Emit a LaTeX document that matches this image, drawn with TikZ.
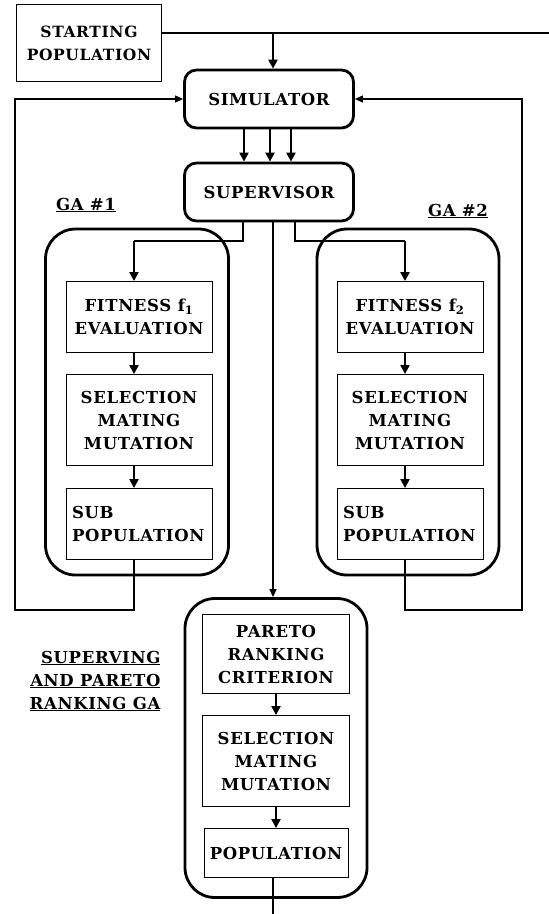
\documentclass[tikz,border=0pt]{standalone}
\usepackage{fontspec}
\setmainfont[LetterSpace=4]{DejaVu Serif}
\usetikzlibrary{arrows.meta}
\tikzset{
  txt/.style={font=\fontsize{16.5}{23}\selectfont\bfseries, align=center},
  box/.style={txt, draw, line width=0.9pt, inner sep=0pt},
  rbox/.style={txt, draw, line width=2.8pt, rounded corners=12pt, inner sep=0pt},
  gabox/.style={draw, line width=2.8pt, rounded corners=30pt, inner sep=0pt},
  arr/.style={line width=2.2pt, -{Triangle[length=9pt,width=9pt]}},
  fb/.style={line width=1.1pt},
  fbarr/.style={fb, -{Triangle[length=8pt,width=7pt]}},
}
\begin{document}
\begin{tikzpicture}[x=1pt, y=-1pt, line join=miter]
  \useasboundingbox (0,0) rectangle (549,914);
  % top part
  \node[box, minimum width=145pt, minimum height=77pt, font=\fontsize{15.5}{23}\selectfont\bfseries] (start) at (89,43) {STARTING\\POPULATION};
  \node[rbox, minimum width=169pt, minimum height=58pt] (sim) at (269,99) {SIMULATOR};
  \node[rbox, minimum width=169pt, minimum height=58pt] (sup) at (269,192) {SUPERVISOR};
  \coordinate (tap) at (273,33);
  \coordinate (topend) at (549,33);
  \draw[fb] (start.east |- tap) -- (topend);
  \draw[arr] (tap) -- (tap |- sim.north);
  \foreach \dx in {-25,1,22} \draw[arr] ([xshift=\dx pt]sim.south) -- ([xshift=\dx pt]sup.north);
  % GA #1 and GA #2
  \node[txt, anchor=base] (lab1) at (86,210) {\underline{GA \#1}};
  \node[txt, anchor=base] (lab2) at (458,216) {\underline{GA \#2}};
  \node[gabox, minimum width=183pt, minimum height=346pt] (ga1) at (137,402) {};
  \node[gabox, minimum width=182pt, minimum height=346pt] (ga2) at (408,402) {};
  \node[box, minimum width=146pt, minimum height=71pt] (fit1) at (139,317) {FITNESS f\textsubscript{1}\\EVALUATION};
  \node[box, minimum width=146pt, minimum height=91pt] (sel1) at (139,420) {SELECTION\\MATING\\MUTATION};
  \node[box, minimum width=146pt, minimum height=71pt, text width=134pt, align=left] (sub1) at (139,524) {SUB\\POPULATION};
  \node[box, minimum width=146pt, minimum height=71pt] (fit2) at (410,317) {FITNESS f\textsubscript{2}\\EVALUATION};
  \node[box, minimum width=146pt, minimum height=91pt] (sel2) at (410,420) {SELECTION\\MATING\\MUTATION};
  \node[box, minimum width=146pt, minimum height=71pt, text width=134pt, align=left] (sub2) at (410,524) {SUB\\POPULATION};
  \coordinate (j1) at (134,241);
  \coordinate (j2) at (405,241);
  \draw[fb] ([xshift=-26pt]sup.south) |- (j1);
  \draw[fb] ([xshift=26pt]sup.south) |- (j2);
  \draw[arr] (j1) -- (j1 |- fit1.north);
  \draw[arr] (j2) -- (j2 |- fit2.north);
  \draw[arr] ([xshift=-5pt]fit1.south) -- ([xshift=-5pt]sel1.north);
  \draw[arr] ([xshift=-5pt]sel1.south) -- ([xshift=-5pt]sub1.north);
  \draw[arr] ([xshift=-5pt]fit2.south) -- ([xshift=-5pt]sel2.north);
  \draw[arr] ([xshift=-5pt]sel2.south) -- ([xshift=-5pt]sub2.north);
  % feedback to the simulator
  \coordinate (lb) at (15,610);
  \coordinate (rb) at (522,610);
  \draw[fbarr] ([xshift=-5pt]sub1.south) |- (lb) |- (sim.west);
  \draw[fbarr] ([xshift=-5pt]sub2.south) |- (rb) |- (sim.east);
  % pareto ranking GA
  \node[txt, align=right, anchor=east] (lab3) at (164,681) {\underline{SUPERVING}\\\underline{AND PARETO}\\\underline{RANKING GA}};
  \node[gabox, minimum width=182pt, minimum height=299pt] (pga) at (276,748) {};
  \node[box, minimum width=147pt, minimum height=79pt] (par) at (276,654) {PARETO\\RANKING\\CRITERION};
  \node[box, minimum width=147pt, minimum height=91pt] (sel3) at (276,761) {SELECTION\\MATING\\MUTATION};
  \node[box, minimum width=144pt, minimum height=49pt] (pop) at (276,853) {POPULATION};
  \draw[fbarr, line width=1.4pt] ([xshift=4pt]sup.south) -- ([xshift=4pt]sup.south |- pga.north);
  \draw[arr] (par) -- (sel3);
  \draw[arr] (sel3) -- (pop);
  \coordinate (bot) at (273,914);
  \draw[fb] (pop.south -| bot) -- (bot);
\end{tikzpicture}
\end{document}
